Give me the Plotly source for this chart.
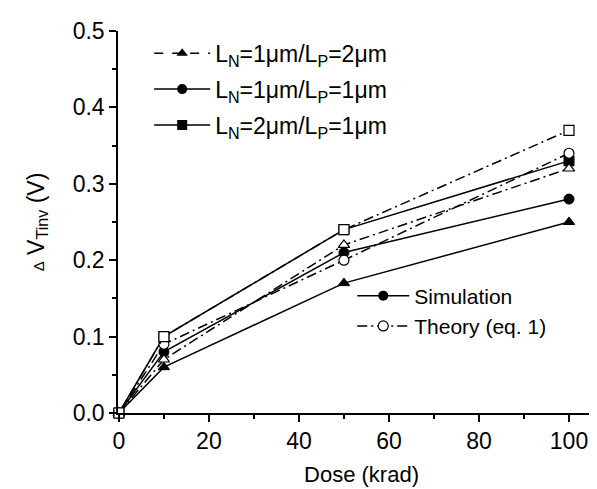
import plotly.graph_objects as go

dose = [0, 10, 50, 100]

# Simulation (solid lines, filled markers)
sim_n1p2 = [0, 0.06, 0.17, 0.25]
sim_n1p1 = [0, 0.08, 0.21, 0.28]
sim_n2p1 = [0, 0.10, 0.24, 0.33]

# Theory (dash-dot lines, open markers)
th_n1p2 = [0, 0.07, 0.22, 0.32]
th_n1p1 = [0, 0.09, 0.20, 0.34]
th_n2p1 = [0, 0.10, 0.24, 0.37]

labels = ["L<sub>N</sub>=1\u03bcm/L<sub>P</sub>=2\u03bcm",
          "L<sub>N</sub>=1\u03bcm/L<sub>P</sub>=1\u03bcm",
          "L<sub>N</sub>=2\u03bcm/L<sub>P</sub>=1\u03bcm"]

FONT = "Liberation Sans, Arial, sans-serif"
DASHDOT = "10px,4px,2px,4px"
MS = 10

fig = go.Figure()

symbols = ["triangle-up", "circle", "square"]
sims = [sim_n1p2, sim_n1p1, sim_n2p1]
ths = [th_n1p2, th_n1p1, th_n2p1]

for sym, yv in zip(symbols, sims):
    fig.add_trace(go.Scatter(
        x=dose, y=yv, mode="lines+markers", showlegend=False, cliponaxis=False,
        line=dict(color="black", width=1.5),
        marker=dict(symbol=sym, size=MS, color="black", line=dict(color="black", width=1))))

for sym, yv in zip(symbols, ths):
    fig.add_trace(go.Scatter(
        x=dose, y=yv, mode="lines+markers", showlegend=False, cliponaxis=False,
        line=dict(color="black", width=1.5, dash=DASHDOT),
        marker=dict(symbol=sym, size=MS, color="white", line=dict(color="black", width=1.2))))

# legend 1 entries
leg_dash = ["dash", "solid", "solid"]
for i, (sym, lab, d) in enumerate(zip(symbols, labels, leg_dash)):
    fig.add_trace(go.Scatter(
        x=[None], y=[None], mode="lines+markers", name=lab, legend="legend",
        legendgroup="g%d" % i,
        line=dict(color="black", width=1.5, dash=d),
        marker=dict(symbol=sym, size=MS, color="black")))

# legend 2 entries
fig.add_trace(go.Scatter(
    x=[None], y=[None], mode="lines+markers", name="Simulation", legend="legend2",
    line=dict(color="black", width=1.5),
    marker=dict(symbol="circle", size=MS, color="black")))
fig.add_trace(go.Scatter(
    x=[None], y=[None], mode="lines+markers", name="Theory (eq. 1)", legend="legend2",
    line=dict(color="black", width=1.5, dash=DASHDOT),
    marker=dict(symbol="circle", size=MS, color="white", line=dict(color="black", width=1.2))))

fig.update_layout(
    width=597, height=489,
    margin=dict(l=110, r=0, t=23, b=84),
    paper_bgcolor="white", plot_bgcolor="white",
    font=dict(family=FONT, size=21, color="black"),
    legend=dict(x=0.064, y=0.998, xanchor="left", yanchor="top",
                bgcolor="rgba(0,0,0,0)", font=dict(size=23),
                traceorder="grouped", tracegroupgap=3, itemwidth=56),
    legend2=dict(x=0.481, y=0.36, xanchor="left", yanchor="top",
                 bgcolor="rgba(0,0,0,0)", font=dict(size=21), itemwidth=52),
    xaxis=dict(range=[-0.2, 108], showgrid=False, zeroline=False, automargin=False,
               showline=True, linecolor="black", linewidth=1.5,
               ticks="outside", ticklen=7, tickwidth=1.5, tickcolor="black",
               tick0=0, dtick=20,
               minor=dict(ticks="outside", ticklen=4, tickwidth=1.5, tickcolor="black", dtick=10),
               title=dict(text="Dose (krad)", standoff=13, font=dict(size=22)),
               tickfont=dict(size=23)),
    yaxis=dict(range=[0, 0.5], showgrid=False, zeroline=False, automargin=False,
               showline=True, linecolor="black", linewidth=1.5,
               ticks="outside", ticklen=7, tickwidth=1.5, tickcolor="black",
               tick0=0, dtick=0.1, tickformat=".1f",
               minor=dict(ticks="outside", ticklen=4, tickwidth=1.5, tickcolor="black", dtick=0.05),
               title=dict(text="<span style='font-size:15px'>\u0394</span> V<sub>Tinv</sub> (V)",
                          standoff=22, font=dict(size=23)),
               tickfont=dict(size=23)),
)

fig.write_html("out.html")
